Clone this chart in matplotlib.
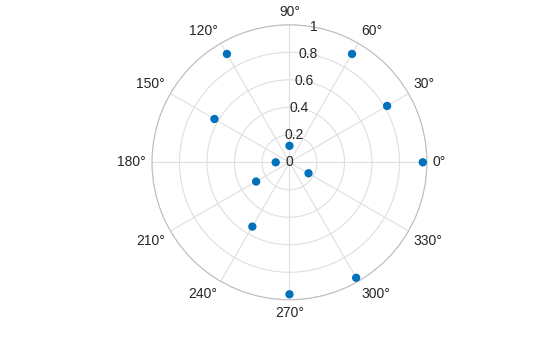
import matplotlib
matplotlib.use('Agg')
import matplotlib.pyplot as plt
import numpy as np

# dados (angulo em graus, raio)
angulos = [0, 30, 60, 90, 120, 150, 180, 210, 240, 270, 300, 330]
raios = [0.97, 0.82, 0.91, 0.12, 0.91, 0.63, 0.10, 0.28, 0.54, 0.96, 0.97, 0.16]
r_ticks = [0, 0.2, 0.4, 0.6, 0.8, 1]
r_labels = ['0', '0.2', '0.4', '0.6', '0.8', '1']
theta_ticks = list(range(0, 360, 30))

plt.rcParams['font.family'] = ['Liberation Sans', 'DejaVu Sans']
cor_texto = '#262626'

fig = plt.figure(figsize=(5.6, 3.37), dpi=100)
ax = fig.add_axes([0.2714, 0.1104, 0.491, 0.816], projection='polar')

ax.scatter(np.deg2rad(angulos), raios, s=36, color='#0072BD', zorder=3,
           clip_on=False, edgecolors='none')

ax.set_ylim(0, 1)
ax.set_yticks(r_ticks)
ax.set_yticklabels([])
ax.set_xticks(np.deg2rad(theta_ticks))
ax.set_xticklabels([])
ax.grid(True, color='#dfdfdf', linewidth=0.8)
ax.spines['polar'].set_color('#bdbdbd')
ax.spines['polar'].set_linewidth(0.8)

# rotulos de angulo fora do circulo, estilo matlab
for a in theta_ticks:
    c, s = np.cos(np.deg2rad(a)), np.sin(np.deg2rad(a))
    ha = 'left' if c > 0.1 else ('right' if c < -0.1 else 'center')
    va = 'bottom' if s > 0.1 else ('top' if s < -0.1 else 'center')
    d = 6
    ax.annotate('%d°' % a, (np.deg2rad(a), 1), xytext=(d * c, d * s),
                textcoords='offset pixels', ha=ha, va=va,
                fontsize=10, color=cor_texto, annotation_clip=False)

# rotulos do raio no angulo de 80 graus
for r, lab in zip(r_ticks, r_labels):
    ax.text(np.deg2rad(80), r, lab, ha='center', va='center',
            fontsize=10, color=cor_texto)

fig.savefig('out.png', dpi=100)
